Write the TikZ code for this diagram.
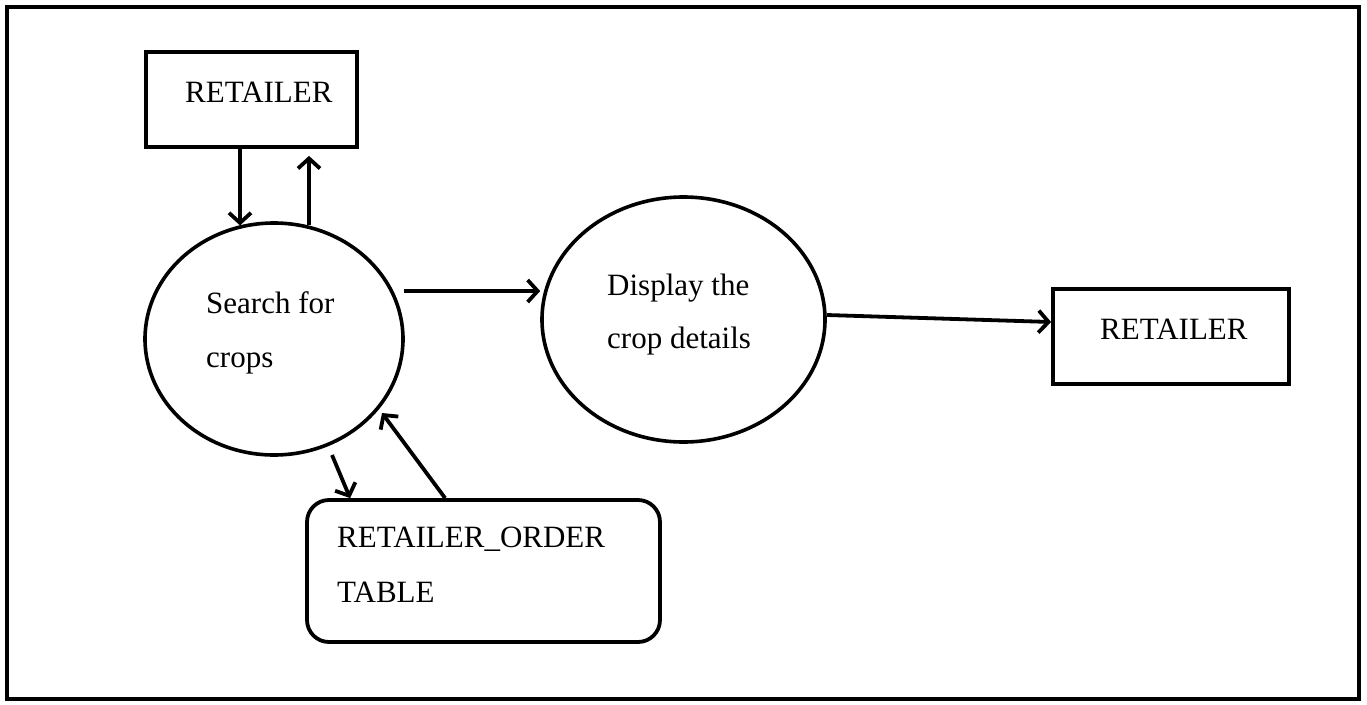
\documentclass[tikz,border=0pt]{standalone}
\usepackage{fontspec}
\setmainfont{Liberation Serif}
\usetikzlibrary{arrows.meta,shapes.geometric}
\begin{document}
\begin{tikzpicture}[x=1pt,y=-1pt,
  boxnode/.style={draw,line width=3.8pt,rectangle,inner sep=0pt},
  procnode/.style={draw,line width=3.6pt,ellipse,inner sep=0pt},
  storenode/.style={draw,line width=3.8pt,rectangle,rounded corners=22pt,inner sep=0pt},
  txt/.style={anchor=base west,inner sep=0pt,font=\fontsize{31}{36}\selectfont},
  arr/.style={line width=3.8pt,-{Straight Barb[length=10pt,width=22pt]}}]
\useasboundingbox (0,0) rectangle (1367,704);
\fill[white] (0,0) rectangle (1367,704);
\draw[line width=4.5pt] (7,7) rectangle (1359,699);
% shapes
\node[boxnode,minimum width=211pt,minimum height=95pt] (r1) at (251.5,99.5) {};
\node[boxnode,minimum width=236pt,minimum height=95pt] (r2) at (1171,336.5) {};
\node[procnode,minimum width=258pt,minimum height=232pt] (s1) at (274,339) {};
\node[procnode,minimum width=283pt,minimum height=245pt] (d1) at (683.5,319.5) {};
\node[storenode,minimum width=353pt,minimum height=142pt] (t1) at (483.5,571) {};
% texts
\node[txt] (r1t) at (185,102) {RETAILER};
\node[txt] (s1a) at (206,313) {Search for};
\node[txt] (s1b) at (206,367) {crops};
\node[txt] (d1a) at (607,295) {Display the};
\node[txt] (d1b) at (607,348) {crop details};
\node[txt] (r2t) at (1100,339) {RETAILER};
\node[txt] (t1a) at (337,547) {RETAILER\_ORDER};
\node[txt] (t1b) at (337,602) {TABLE};
% connectors
\draw[arr] ([xshift=-11.5pt]r1.south) -- ([xshift=-11.5pt]r1.south |- s1.107);
\draw[arr] ([xshift=57.5pt]r1.south |- s1.73) -- ([xshift=57.5pt,yshift=-7pt]r1.south);
\draw[arr] ([xshift=-1pt,yshift=48pt]s1.east) -- ([yshift=28.5pt]d1.west);
\draw[arr] ([yshift=4.5pt]d1.east) -- ([yshift=14.5pt]r2.west);
\draw[arr] ([xshift=58pt,yshift=-116pt]s1.center) -- ([xshift=45pt]t1.north west);
\draw[arr] ([xshift=140pt]t1.north west) -- ([xshift=108pt,yshift=-74pt]s1.center);
\end{tikzpicture}
\end{document}
